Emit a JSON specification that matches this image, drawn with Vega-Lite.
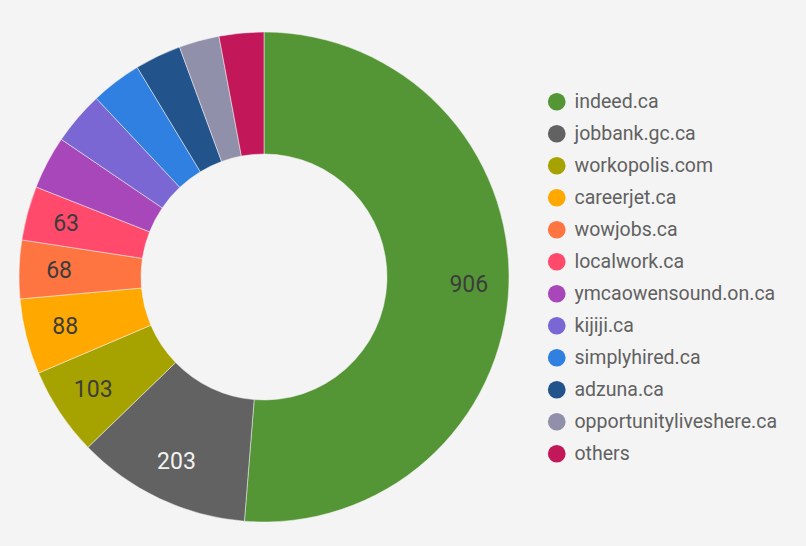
{
  "$schema": "https://vega.github.io/schema/vega-lite/v6.json",
  "width": 528,
  "height": 540,
  "padding": {"top": 7, "left": 0, "right": 278, "bottom": 0},
  "autosize": {"type": "none"},
  "background": "#f4f4f4",
  "config": {"view": {"stroke": null}, "font": "Roboto"},
  "data": {
    "values": [
      {"rank": 1, "site": "indeed.ca", "value": 906},
      {"rank": 2, "site": "jobbank.gc.ca", "value": 203},
      {"rank": 3, "site": "workopolis.com", "value": 103},
      {"rank": 4, "site": "careerjet.ca", "value": 88},
      {"rank": 5, "site": "wowjobs.ca", "value": 68},
      {"rank": 6, "site": "localwork.ca", "value": 63},
      {"rank": 7, "site": "ymcaowensound.on.ca", "value": 62},
      {"rank": 8, "site": "kijiji.ca", "value": 62},
      {"rank": 9, "site": "simplyhired.ca", "value": 59},
      {"rank": 10, "site": "adzuna.ca", "value": 54},
      {"rank": 11, "site": "opportunityliveshere.ca", "value": 47},
      {"rank": 12, "site": "others", "value": 52}
    ]
  },
  "encoding": {
    "theta": {"field": "value", "type": "quantitative", "stack": true},
    "order": {"field": "rank", "type": "quantitative"}
  },
  "layer": [
    {
      "mark": {"type": "arc", "outerRadius": 245, "innerRadius": 123, "stroke": "#f4f4f4", "strokeWidth": 0.5},
      "encoding": {
        "color": {
          "field": "site",
          "type": "nominal",
          "scale": {
            "domain": ["indeed.ca", "jobbank.gc.ca", "workopolis.com", "careerjet.ca", "wowjobs.ca", "localwork.ca", "ymcaowensound.on.ca", "kijiji.ca", "simplyhired.ca", "adzuna.ca", "opportunityliveshere.ca", "others"],
            "range": ["#549636", "#626262", "#a6a300", "#ffa800", "#ff7542", "#ff4a6c", "#a847b9", "#7b67d4", "#2f80e0", "#22538a", "#9090aa", "#c21759"]
          },
          "legend": {
            "title": null,
            "orient": "none",
            "legendX": 547,
            "legendY": 85,
            "symbolType": "circle",
            "symbolSize": 314,
            "symbolStrokeWidth": 0,
            "labelFontSize": 19.5,
            "labelColor": "#616161",
            "labelFont": "Roboto",
            "labelOffset": 8,
            "rowPadding": 11,
            "labelLimit": 300
          }
        }
      }
    },
    {
      "transform": [{"filter": "datum.value >= 63"}],
      "mark": {"type": "text", "radius": 205, "fontSize": 23, "font": "Roboto"},
      "encoding": {
        "text": {"field": "value", "type": "quantitative"},
        "color": {
          "condition": {"test": "datum.site === 'jobbank.gc.ca'", "value": "#f2f2f2"},
          "value": "#3c3c3c"
        }
      }
    }
  ]
}
